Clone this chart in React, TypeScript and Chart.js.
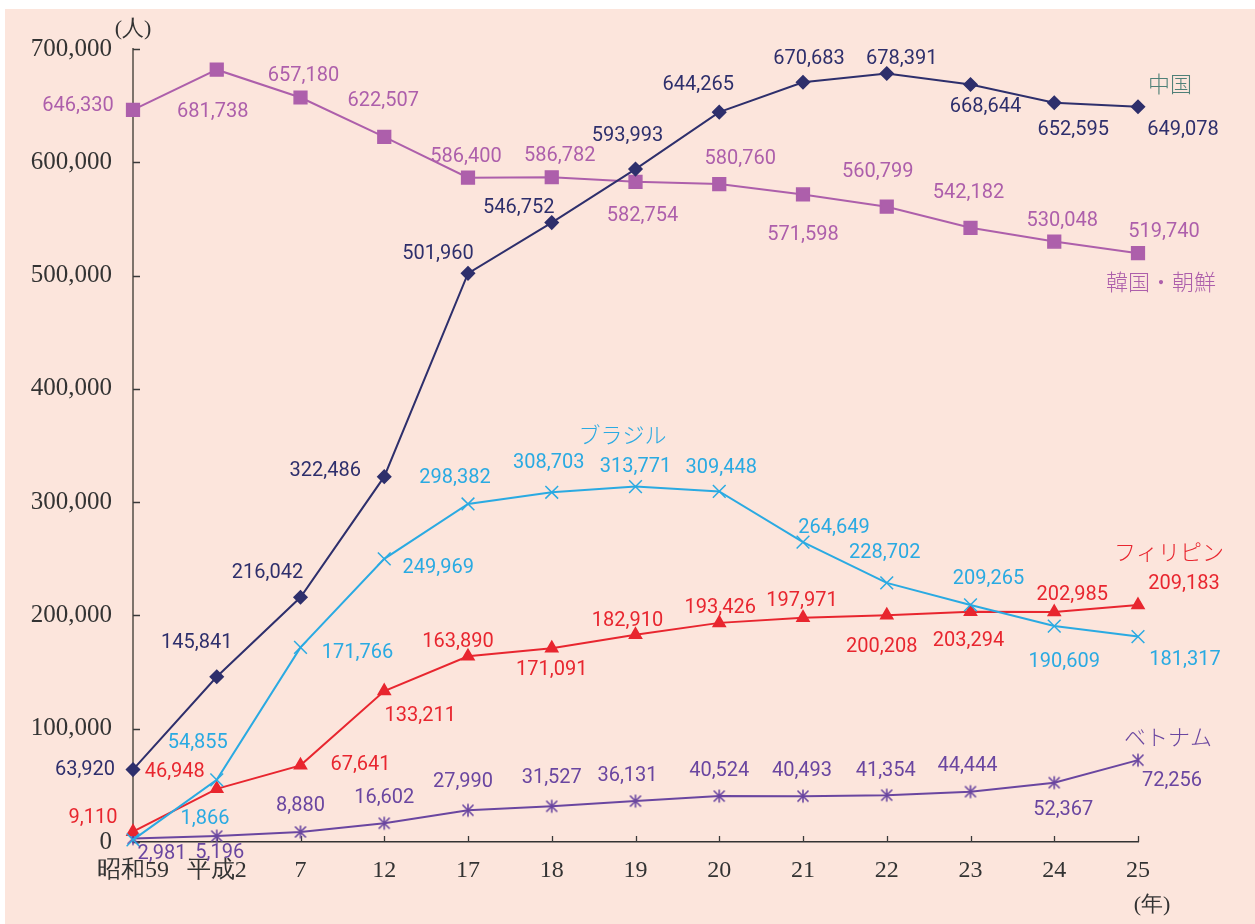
import React, { useEffect, useRef } from "react";
import { Chart, registerables } from "chart.js";

Chart.register(...registerables);

// Foreign residents in Japan by nationality (persons)
const categories = ["昭和59", "平成2", "7", "12", "17", "18", "19", "20", "21", "22", "23", "24", "25"];

const china = [63920, 145841, 216042, 322486, 501960, 546752, 593993, 644265, 670683, 678391, 668644, 652595, 649078];
const korea = [646330, 681738, 657180, 622507, 586400, 586782, 582754, 580760, 571598, 560799, 542182, 530048, 519740];
const brazil = [1866, 54855, 171766, 249969, 298382, 308703, 313771, 309448, 264649, 228702, 209265, 190609, 181317];
const philippines = [9110, 46948, 67641, 133211, 163890, 171091, 182910, 193426, 197971, 200208, 203294, 202985, 209183];
const vietnam = [2981, 5196, 8880, 16602, 27990, 31527, 36131, 40524, 40493, 41354, 44444, 52367, 72256];

const yTicks = [0, 100000, 200000, 300000, 400000, 500000, 600000, 700000];

// Value-label placement relative to each point (dx, dy in px)
const chinaLabelPos = [[-48, 0], [-20, -34], [-33, -24], [-59, -6], [-30, -19], [-33, -15], [-8, -33], [-21, -27], [6, -23], [15, -14], [15, 22], [19, 27], [45, 23]];
const koreaLabelPos = [[-55, -4], [-4, 42], [3, -22], [-1, -36], [-2, -21], [8, -21], [7, 34], [21, -25], [0, 41], [-9, -35], [-2, -35], [8, -21], [26, -21]];
const brazilLabelPos = [[72, -21], [-19, -37], [57, 6], [54, 9], [-13, -26], [-3, -29], [0, -20], [2, -23], [31, -14], [-2, -30], [18, -26], [10, 36], [47, 23]];
const philippinesLabelPos = [[-40, -14], [-42, -17], [60, 0], [36, 25], [-10, -14], [0, 22], [-8, -14], [1, -15], [-1, -17], [-5, 32], [-2, 29], [18, -17], [46, -21]];
const vietnamLabelPos = [[29, 15], [3, 17], [0, -26], [0, -25], [-5, -28], [0, -28], [-8, -25], [0, -25], [-1, -25], [-1, -24], [-3, -26], [9, 27], [34, 21]];

const COLORS = {
  china: "#2e2f6c",
  chinaName: "#4f8078",
  korea: "#ad5fab",
  brazil: "#2aaae2",
  philippines: "#e8262f",
  vietnam: "#6a46a0",
};

const LABEL_FONT = '20px Roboto, "Liberation Sans", sans-serif';
const NAME_FONT = '300 22px "Noto Sans CJK JP", sans-serif';
const SERIF_FONT = '"Liberation Serif", "DejaVu Serif", serif';

function makeAsterisk(color: string): HTMLCanvasElement {
  const c = document.createElement("canvas");
  c.width = 16;
  c.height = 16;
  const g = c.getContext("2d")!;
  g.strokeStyle = color;
  g.lineWidth = 1.6;
  g.beginPath();
  g.moveTo(8, 1.5);
  g.lineTo(8, 14.5);
  g.moveTo(2.5, 2.5);
  g.lineTo(13.5, 13.5);
  g.moveTo(13.5, 2.5);
  g.lineTo(2.5, 13.5);
  g.stroke();
  return c;
}

type SeriesExtra = {
  labelPos: number[][];
  labelColor: string;
  name: string;
  nameColor: string;
  nameIndex: number;
  nameOffset: [number, number];
};

const fmt = (v: number) => v.toLocaleString("en-US");

export default function App() {
  const canvasRef = useRef<HTMLCanvasElement | null>(null);

  useEffect(() => {
    const canvas = canvasRef.current;
    if (!canvas) return;

    const extras: SeriesExtra[] = [
      { labelPos: chinaLabelPos, labelColor: COLORS.china, name: "中国", nameColor: COLORS.chinaName, nameIndex: 12, nameOffset: [32, -23] },
      { labelPos: koreaLabelPos, labelColor: COLORS.korea, name: "韓国・朝鮮", nameColor: COLORS.korea, nameIndex: 12, nameOffset: [23, 28] },
      { labelPos: brazilLabelPos, labelColor: COLORS.brazil, name: "ブラジル", nameColor: COLORS.brazil, nameIndex: 6, nameOffset: [-13, -52] },
      { labelPos: philippinesLabelPos, labelColor: COLORS.philippines, name: "フィリピン", nameColor: COLORS.philippines, nameIndex: 12, nameOffset: [31, -53] },
      { labelPos: vietnamLabelPos, labelColor: COLORS.vietnam, name: "ベトナム", nameColor: COLORS.vietnam, nameIndex: 12, nameOffset: [30, -24] },
    ];

    // inward tick marks on both axes
    const tickMarks = {
      id: "tickMarks",
      beforeDatasetsDraw(chart: any) {
        const { ctx, chartArea, scales } = chart;
        ctx.save();
        ctx.strokeStyle = "#3a3a3a";
        ctx.lineWidth = 1.3;
        ctx.beginPath();
        yTicks.forEach((v) => {
          const y = Math.round(scales.y.getPixelForValue(v)) + 0.5;
          ctx.moveTo(chartArea.left, y);
          ctx.lineTo(chartArea.left + 7, y);
        });
        categories.forEach((_, i) => {
          const x = Math.round(scales.x.getPixelForValue(i)) + 0.5;
          ctx.moveTo(x, chartArea.bottom);
          ctx.lineTo(x, chartArea.bottom - 6);
        });
        ctx.stroke();
        ctx.restore();
      },
    };

    // value labels, series names and unit captions
    const annotations = {
      id: "annotations",
      afterDatasetsDraw(chart: any) {
        const { ctx, chartArea } = chart;
        ctx.save();
        ctx.textAlign = "center";
        ctx.textBaseline = "middle";
        chart.data.datasets.forEach((ds: any, di: number) => {
          const meta = chart.getDatasetMeta(di);
          const ex = extras[di];
          ctx.font = LABEL_FONT;
          ctx.fillStyle = ex.labelColor;
          meta.data.forEach((pt: any, i: number) => {
            const [dx, dy] = ex.labelPos[i];
            ctx.fillText(fmt(ds.data[i]), pt.x + dx, pt.y + dy);
          });
          const anchor = meta.data[ex.nameIndex];
          ctx.font = NAME_FONT;
          ctx.fillStyle = ex.nameColor;
          ctx.fillText(ex.name, anchor.x + ex.nameOffset[0], anchor.y + ex.nameOffset[1]);
        });
        ctx.fillStyle = "#333333";
        ctx.font = `22px ${SERIF_FONT}`;
        ctx.fillText("(人)", chartArea.left, chartArea.top - 20);
        ctx.fillText("(年)", chartArea.right + 14, chartArea.bottom + 63);
        ctx.restore();
      },
    };

    const base = { borderWidth: 2, pointBorderWidth: 1.5, tension: 0, clip: false as any, fill: false };

    const chart = new Chart(canvas, {
      type: "line",
      data: {
        labels: categories,
        datasets: [
          { ...base, label: "中国", data: china, borderColor: COLORS.china, backgroundColor: COLORS.china, pointStyle: "rectRot", pointRadius: 6.5 },
          { ...base, label: "韓国・朝鮮", data: korea, borderColor: COLORS.korea, backgroundColor: COLORS.korea, pointStyle: "rect", pointRadius: 9 },
          { ...base, label: "ブラジル", data: brazil, borderColor: COLORS.brazil, backgroundColor: COLORS.brazil, pointStyle: "crossRot", pointRadius: 9 },
          { ...base, label: "フィリピン", data: philippines, borderColor: COLORS.philippines, backgroundColor: COLORS.philippines, pointStyle: "triangle", pointRadius: 7 },
          { ...base, label: "ベトナム", data: vietnam, borderColor: COLORS.vietnam, backgroundColor: COLORS.vietnam, pointStyle: makeAsterisk(COLORS.vietnam) as any, pointRadius: 8 },
        ],
      },
      options: {
        responsive: false,
        animation: false,
        layout: { padding: { left: 0, top: 49, right: 117, bottom: 0 } },
        plugins: { legend: { display: false }, tooltip: { enabled: false }, title: { display: false } },
        scales: {
          x: {
            type: "category",
            offset: false,
            grid: { display: false, drawTicks: false },
            border: { display: true, color: "#333333", width: 1.5 },
            ticks: { color: "#333333", font: { family: SERIF_FONT, size: 24 }, padding: 14, maxRotation: 0, autoSkip: false },
            afterFit: (s: any) => { s.height = 82; },
          },
          y: {
            min: 0,
            max: 700000,
            grid: { display: false, drawTicks: false },
            border: { display: true, color: "#7d736b", width: 2 },
            afterBuildTicks: (s: any) => { s.ticks = yTicks.map((v) => ({ value: v })); },
            ticks: { color: "#333333", font: { family: SERIF_FONT, size: 25 }, padding: 21, callback: (v: any) => fmt(Number(v)) },
            afterFit: (s: any) => { s.width = 133; },
          },
        },
      },
      plugins: [tickMarks, annotations],
    });

    return () => chart.destroy();
  }, []);

  return (
    <div style={{ position: "fixed", left: 0, top: 0, width: 1255, height: 924, background: "#ffffff" }}>
      <div style={{ position: "absolute", left: 5, top: 9, right: 0, bottom: 0, background: "#fce5dc" }} />
      <canvas ref={canvasRef} width={1255} height={924} style={{ position: "absolute", left: 0, top: 0 }} />
    </div>
  );
}
